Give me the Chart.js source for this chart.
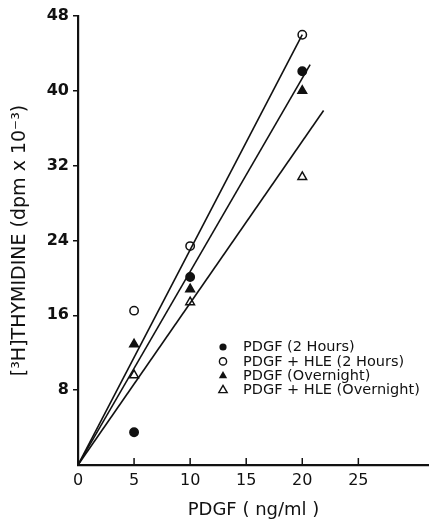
<!DOCTYPE html>
<html>
<head>
<meta charset="utf-8">
<script src="https://cdn.jsdelivr.net/npm/chart.js@4.4.0/dist/chart.umd.min.js"></script>
<style>
  html, body { margin: 0; padding: 0; background: #fff; }
  #wrap { width: 429px; height: 521px; }
</style>
</head>
<body>
<div id="wrap"><canvas id="chart" width="429" height="521"></canvas></div>
<script>
// PDGF dose (ng/ml)
const doses = [5, 10, 20];

// [3H]thymidine incorporation, dpm x 10^-3
const pdgf2h = [3.5, 20.1, 42.1];
const pdgfHle2h = [16.5, 23.4, 46.0];
const pdgfOvernight = [12.9, 18.8, 40.0];
const pdgfHleOvernight = [9.6, 17.4, 30.8];

// fitted lines through the origin (end points)
const lineA = [[0, 0], [20, 46.0]];
const lineB = [[0, 0], [20.7, 42.8]];
const lineC = [[0, 0], [21.9, 37.9]];

const xTicks = [0, 5, 10, 15, 20, 25];
const yTicks = [8, 16, 24, 32, 40, 48];

const legendLabels = ['PDGF (2 Hours)', 'PDGF + HLE (2 Hours)', 'PDGF (Overnight)', 'PDGF + HLE (Overnight)'];

const ink = '#111';
const font = 'DejaVu Sans';

function pts(ys) {
  return doses.map((x, i) => ({ x: x, y: ys[i] }));
}
function seg(arr) {
  return arr.map(p => ({ x: p[0], y: p[1] }));
}
function fitLine(arr) {
  return {
    type: 'line',
    data: seg(arr),
    borderColor: ink,
    borderWidth: 1.6,
    pointRadius: 0,
    fill: false
  };
}

// x ticks point inwards, drawn from the x scale
const innerTicks = {
  id: 'innerTicks',
  afterDraw(chart) {
    const ctx = chart.ctx;
    const xs = chart.scales.x;
    const bottom = chart.chartArea.bottom;
    ctx.save();
    ctx.strokeStyle = ink;
    ctx.lineWidth = 1.5;
    xs.ticks.forEach(t => {
      if (t.value === 0) return;
      const px = xs.getPixelForValue(t.value);
      ctx.beginPath();
      ctx.moveTo(px, bottom);
      ctx.lineTo(px, bottom - 7);
      ctx.stroke();
    });
    ctx.restore();
  }
};

// legend inside the plot area
const insideLegend = {
  id: 'insideLegend',
  afterDraw(chart) {
    const ctx = chart.ctx;
    const x0 = 223, y0 = 347, step = 14.4;
    ctx.save();
    ctx.font = '14.5px "' + font + '"';
    ctx.textBaseline = 'middle';
    ctx.fillStyle = ink;
    chart.data.datasets.filter(d => d.type === 'scatter').forEach((d, i) => {
      const y = y0 + i * step;
      ctx.beginPath();
      ctx.strokeStyle = ink;
      ctx.lineWidth = 1.4;
      if (d.pointStyle === 'circle') {
        ctx.arc(x0, y, 3.6, 0, Math.PI * 2);
      } else {
        const r = 4.8;
        ctx.moveTo(x0, y - r);
        ctx.lineTo(x0 + r * 0.87, y + r * 0.5);
        ctx.lineTo(x0 - r * 0.87, y + r * 0.5);
        ctx.closePath();
      }
      if (d.pointBackgroundColor === ink) ctx.fill(); else ctx.stroke();
      ctx.fillText(legendLabels[i], x0 + 20, y + 0.5);
    });
    ctx.restore();
  }
};

function marker(label, data, style, filled, r) {
  return {
    type: 'scatter',
    label: label,
    data: pts(data),
    pointStyle: style,
    pointRadius: r,
    pointBorderColor: ink,
    pointBorderWidth: 1.5,
    pointBackgroundColor: filled ? ink : '#fff'
  };
}

new Chart(document.getElementById('chart'), {
  data: {
    datasets: [
      fitLine(lineA),
      fitLine(lineB),
      fitLine(lineC),
      marker(legendLabels[0], pdgf2h, 'circle', true, 4.2),
      marker(legendLabels[1], pdgfHle2h, 'circle', false, 4.2),
      marker(legendLabels[2], pdgfOvernight, 'triangle', true, 5),
      marker(legendLabels[3], pdgfHleOvernight, 'triangle', false, 5)
    ]
  },
  options: {
    responsive: false,
    animation: false,
    layout: { autoPadding: false, padding: { top: 16, right: 0, left: 0, bottom: 0 } },
    plugins: {
      legend: { display: false },
      tooltip: { enabled: false }
    },
    scales: {
      x: {
        type: 'linear',
        min: 0,
        max: 31.3,
        afterBuildTicks: s => { s.ticks = xTicks.map(v => ({ value: v })); },
        afterFit: s => { s.height = 56; s.paddingRight = 0; s.paddingLeft = 0; },
        grid: { display: true, drawOnChartArea: false, drawTicks: false },
        border: { display: true, color: ink, width: 2.2 },
        ticks: { color: ink, font: { family: font, size: 16 }, padding: 6 },
        title: {
          display: true,
          text: 'PDGF ( ng/ml )',
          color: ink,
          font: { family: font, size: 18 },
          padding: { top: 5, bottom: 0 }
        }
      },
      y: {
        type: 'linear',
        min: 0,
        max: 48,
        afterBuildTicks: s => { s.ticks = yTicks.map(v => ({ value: v })); },
        afterFit: s => { s.width = 78; },
        grid: { display: true, drawOnChartArea: false, drawTicks: true, tickLength: 5, color: ink, lineWidth: 1.5 },
        border: { display: true, color: ink, width: 2.2 },
        ticks: { color: ink, font: { family: font, size: 16, weight: 'bold' }, padding: 4 },
        title: {
          display: true,
          text: '[³H]THYMIDINE (dpm x 10⁻³)',
          color: ink,
          font: { family: font, size: 19 },
          padding: { top: 9, bottom: 0 }
        }
      }
    }
  },
  plugins: [innerTicks, insideLegend]
});
</script>
</body>
</html>
